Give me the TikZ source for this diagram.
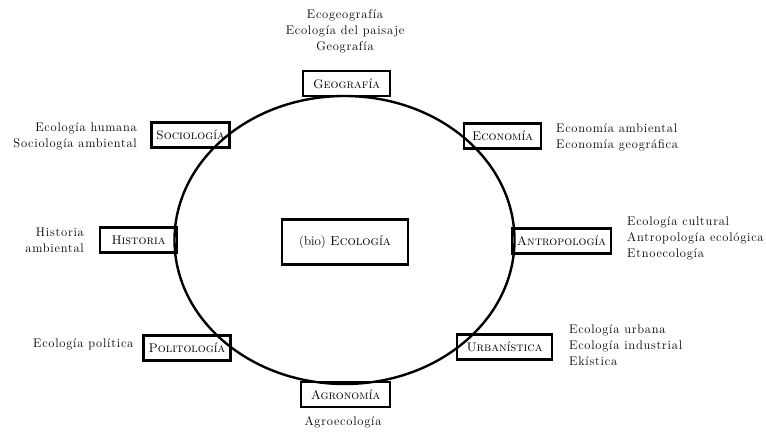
\documentclass[tikz,border=0pt]{standalone}
\usepackage{fontspec}
\newfontfamily\descfont[LetterSpace=6]{Latin Modern Roman}
\tikzset{
  box/.style={draw},
  disc/.style={box, line width=2.6pt, inner xsep=5pt, inner ysep=0pt, minimum height=25pt, font=\fontsize{12.5}{14}\selectfont\scshape},
  desc/.style={font=\fontsize{12.5}{16}\selectfont\descfont, inner sep=0pt},
}
\begin{document}
\begin{tikzpicture}[x=1pt,y=-1pt]
\useasboundingbox (0,0) rectangle (766,437);
% discipline boxes
\node[disc, minimum width=87pt] (geo) at (346.5,83.5) {Geografía};
\node[disc, minimum width=77pt] (soc) at (190.5,135) {Sociología};
\node[disc, minimum width=77pt] (eco) at (502.5,136) {Economía};
\node[disc, minimum width=77pt] (his) at (138.5,240) {Historia};
\node[disc, minimum width=97pt] (ant) at (561.5,241) {Antropología};
\node[disc, minimum width=82pt] (pol) at (187,348) {Politología};
\node[disc, minimum width=95pt] (urb) at (504.5,347) {Urbanística};
\node[disc, minimum width=89pt] (agr) at (345.5,394.5) {Agronomía};
\node[box, line width=2.6pt, minimum width=126pt, minimum height=45pt, font=\fontsize{13}{15}\selectfont] (bio) at (345,242) {(bio) \textsc{Ecología}};
% ellipse
\draw[line width=2.4pt] (344.5,240) ellipse [x radius=170, y radius=144];
% descriptions
\node[desc, align=center] (tgeo) at (345,31) {Ecogeografía\\Ecología del paisaje\\Geografía};
\node[desc, align=right, anchor=east] (tsoc) at (137,136) {Ecología humana\\Sociología ambiental};
\node[desc, align=left, anchor=west] (teco) at (556,137) {Economía ambiental\\Economía geográfica};
\node[desc, align=right, anchor=east] (this) at (84,240) {Historia\\ambiental};
\node[desc, align=left, anchor=west] (tant) at (627,238) {Ecología cultural\\Antropología ecológica\\Etnoecología};
\node[desc, anchor=west] (tpol) at (33,344) {Ecología política};
\node[desc, align=left, anchor=west] (turb) at (569,345) {Ecología urbana\\Ecología industrial\\Ekística};
\node[desc] (tagr) at (343,422) {Agroecología};
\end{tikzpicture}
\end{document}
